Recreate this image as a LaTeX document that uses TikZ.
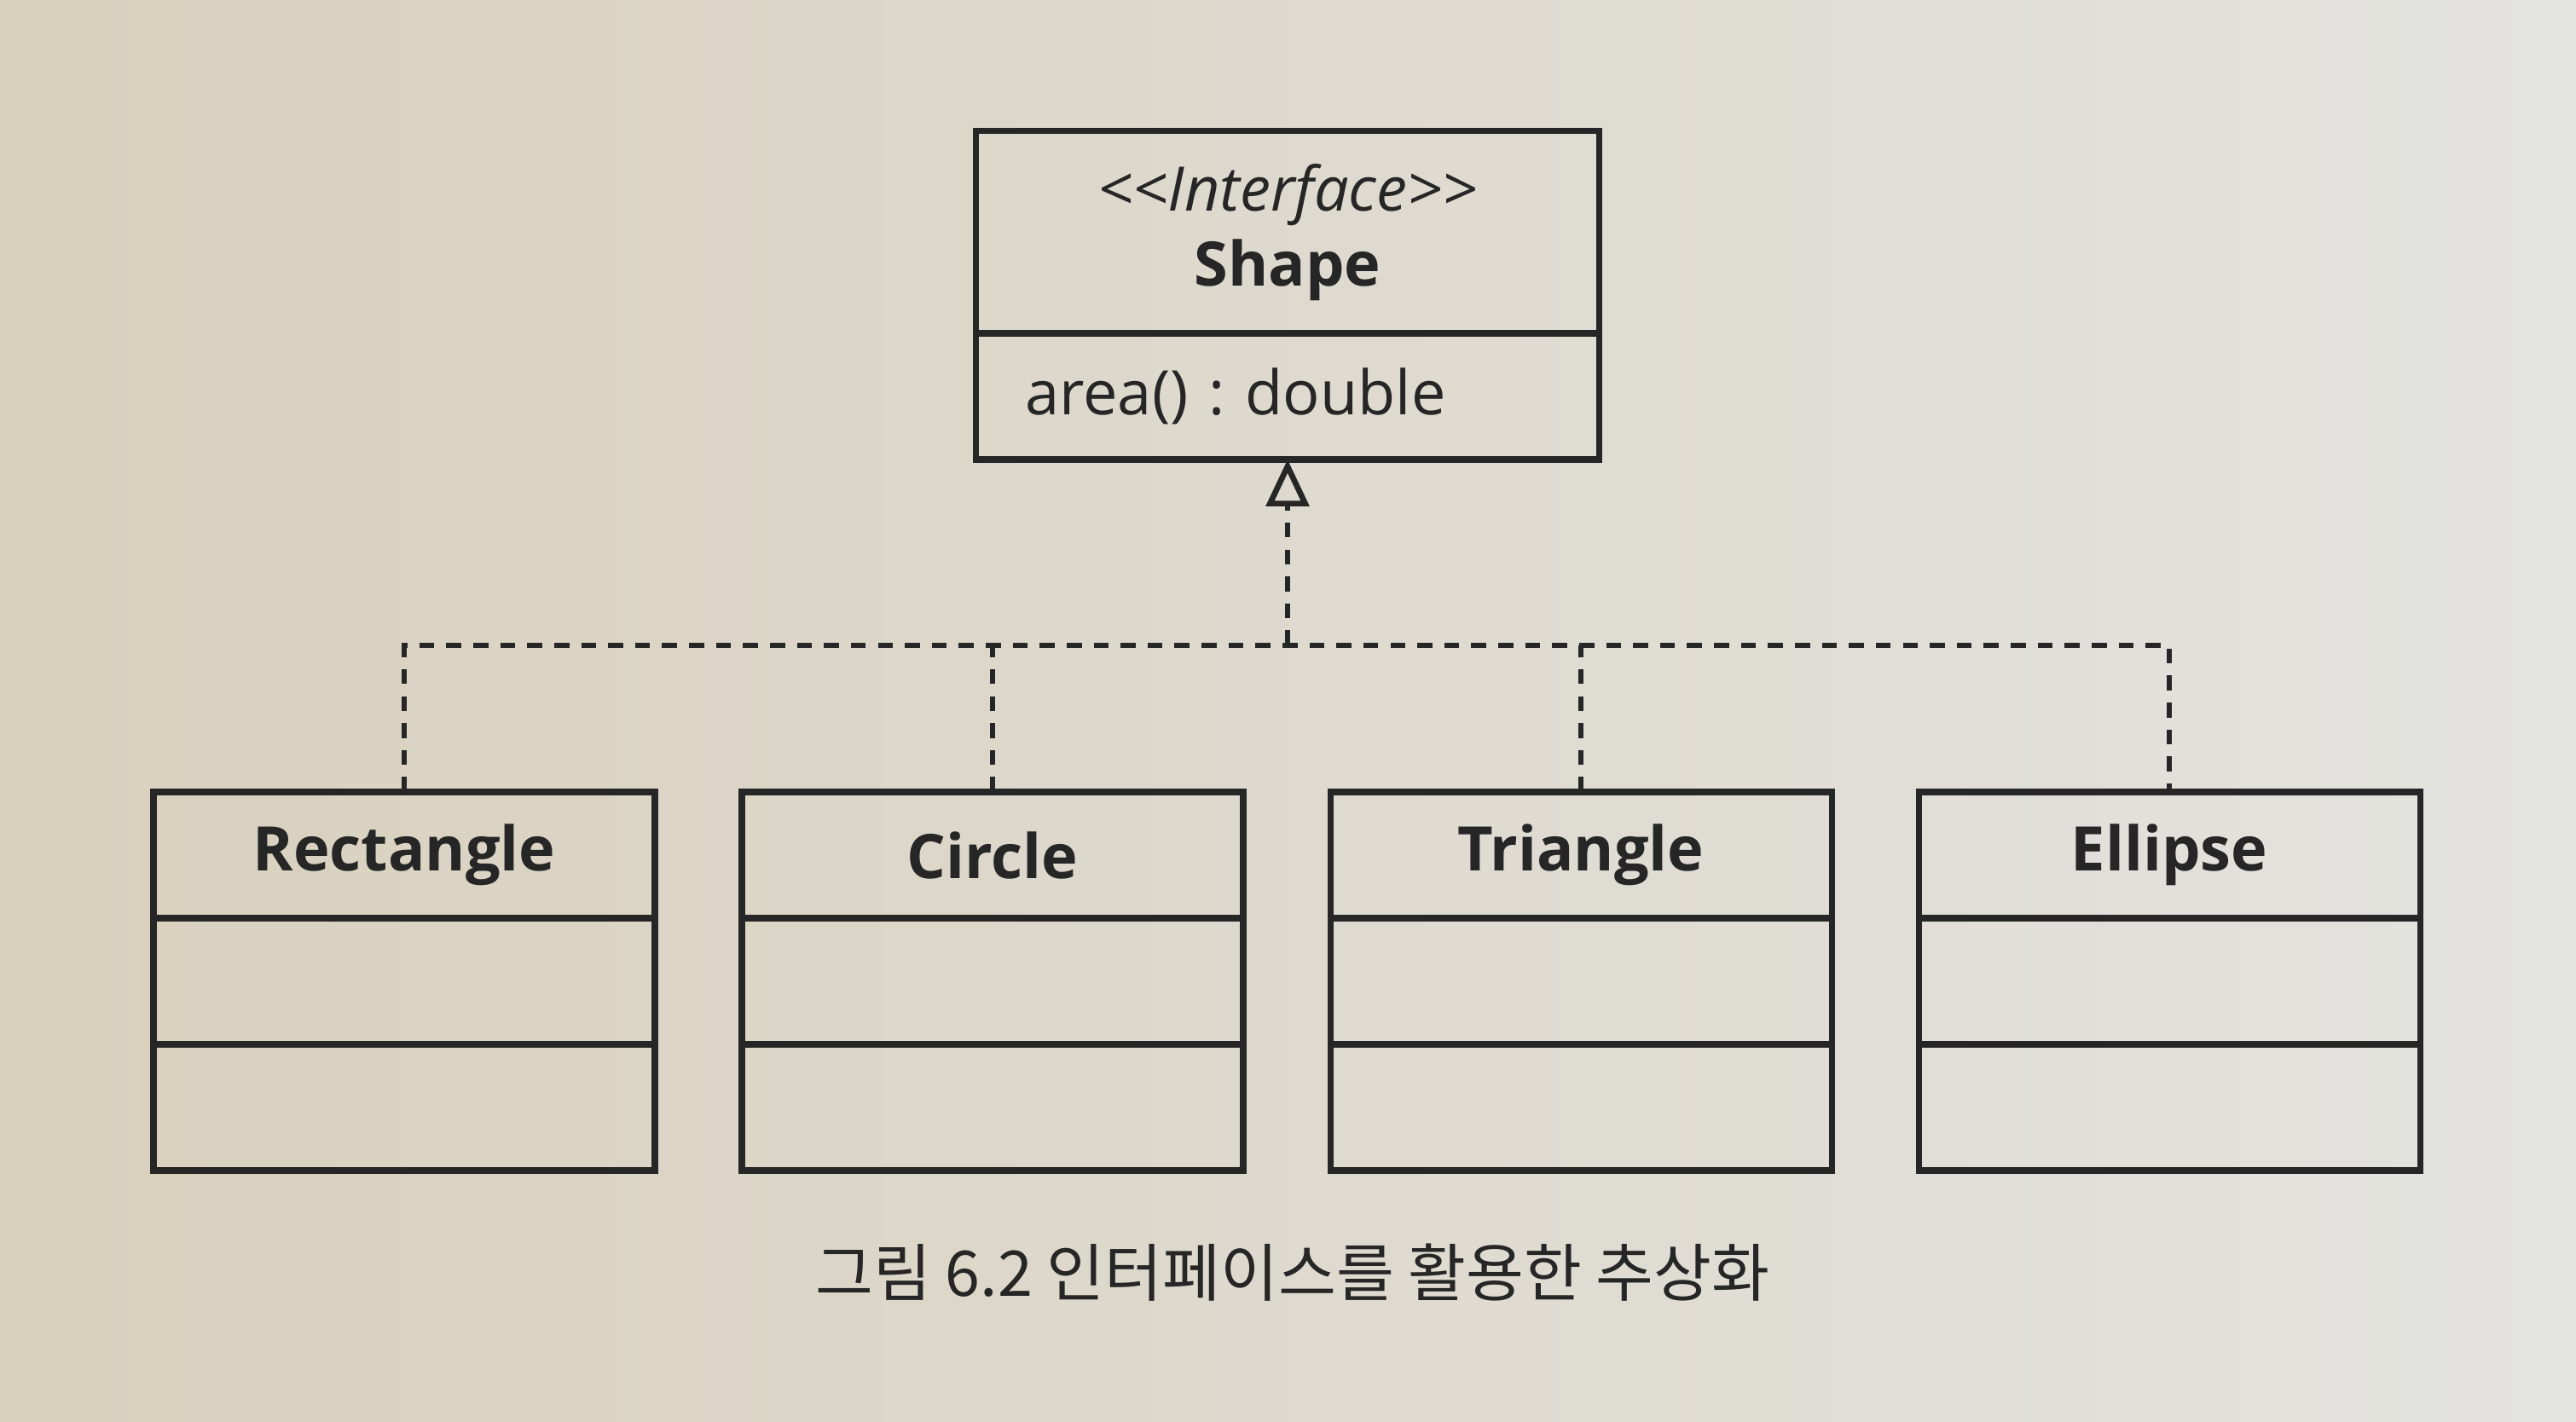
\documentclass[tikz,border=0pt]{standalone}
\usepackage{fontspec}
\setmainfont{Open Sans}
\newfontfamily\krfont{Noto Sans CJK KR}
\usepackage{tikz}
\usetikzlibrary{positioning}
\usetikzlibrary{arrows.meta}
\definecolor{ink}{HTML}{262626}
\definecolor{paperleft}{HTML}{D9D0BD}
\definecolor{paperright}{HTML}{E3E3E0}
\frenchspacing

\begin{document}
\begin{tikzpicture}
\tikzstyle{classpart}=[rectangle, draw=ink, line width=2pt, outer sep=0pt, minimum width=5.88cm, minimum height=1.48cm, text=ink, font=\fontsize{20.5}{25}\selectfont]
\tikzstyle{classhead}=[classpart, font=\fontsize{20.5}{25}\selectfont\bfseries]
\tikzstyle{realize}=[draw=ink, line width=1.9pt, dash pattern=on 5pt off 4pt]
\shade[left color=paperleft, right color=paperright] (0,0) rectangle (30.21,16.68);
\useasboundingbox (0,0) rectangle (30.21,16.68);

\node[classpart, minimum width=7.31cm, minimum height=2.37cm, align=center] (shape) at (15.10,13.955) {\textit{<\kern0pt<Interface>\kern0pt>}\\\textbf{Shape}};
\node[classpart, minimum width=7.31cm, below=0pt of shape, inner xsep=0.58cm, text width=6.15cm, align=left] (shapeops) {area() : double};

\node[classhead] (rectname) at (4.74,6.65) {Rectangle};
\node[classhead, right=1.02cm of rectname] (circname) {Circle};
\node[classhead, right=1.02cm of circname] (trianame) {Triangle};
\node[classhead, right=1.02cm of trianame] (ellname) {Ellipse};
\foreach \c in {rect,circ,tria,ell} {
  \node[classpart, below=0pt of \c name] (\c attr) {};
  \node[classpart, below=0pt of \c attr] (\c ops) {};
}

\coordinate (hub) at (15.10,9.11);
\draw[realize, -{Triangle[open, length=5.5mm, width=5mm]}] (hub) -- (shapeops.south);
\draw[realize] (rectname.north) |- (hub) -| (ellname.north);
\draw[realize] (circname.north) -- (circname.north |- hub);
\draw[realize] (trianame.north) -- (trianame.north |- hub);

\node[font=\krfont\fontsize{21}{24}\selectfont, text=ink] (caption) at (15.16,1.75) {그림 6.2 인터페이스를 활용한 추상화};
\end{tikzpicture}
\end{document}
